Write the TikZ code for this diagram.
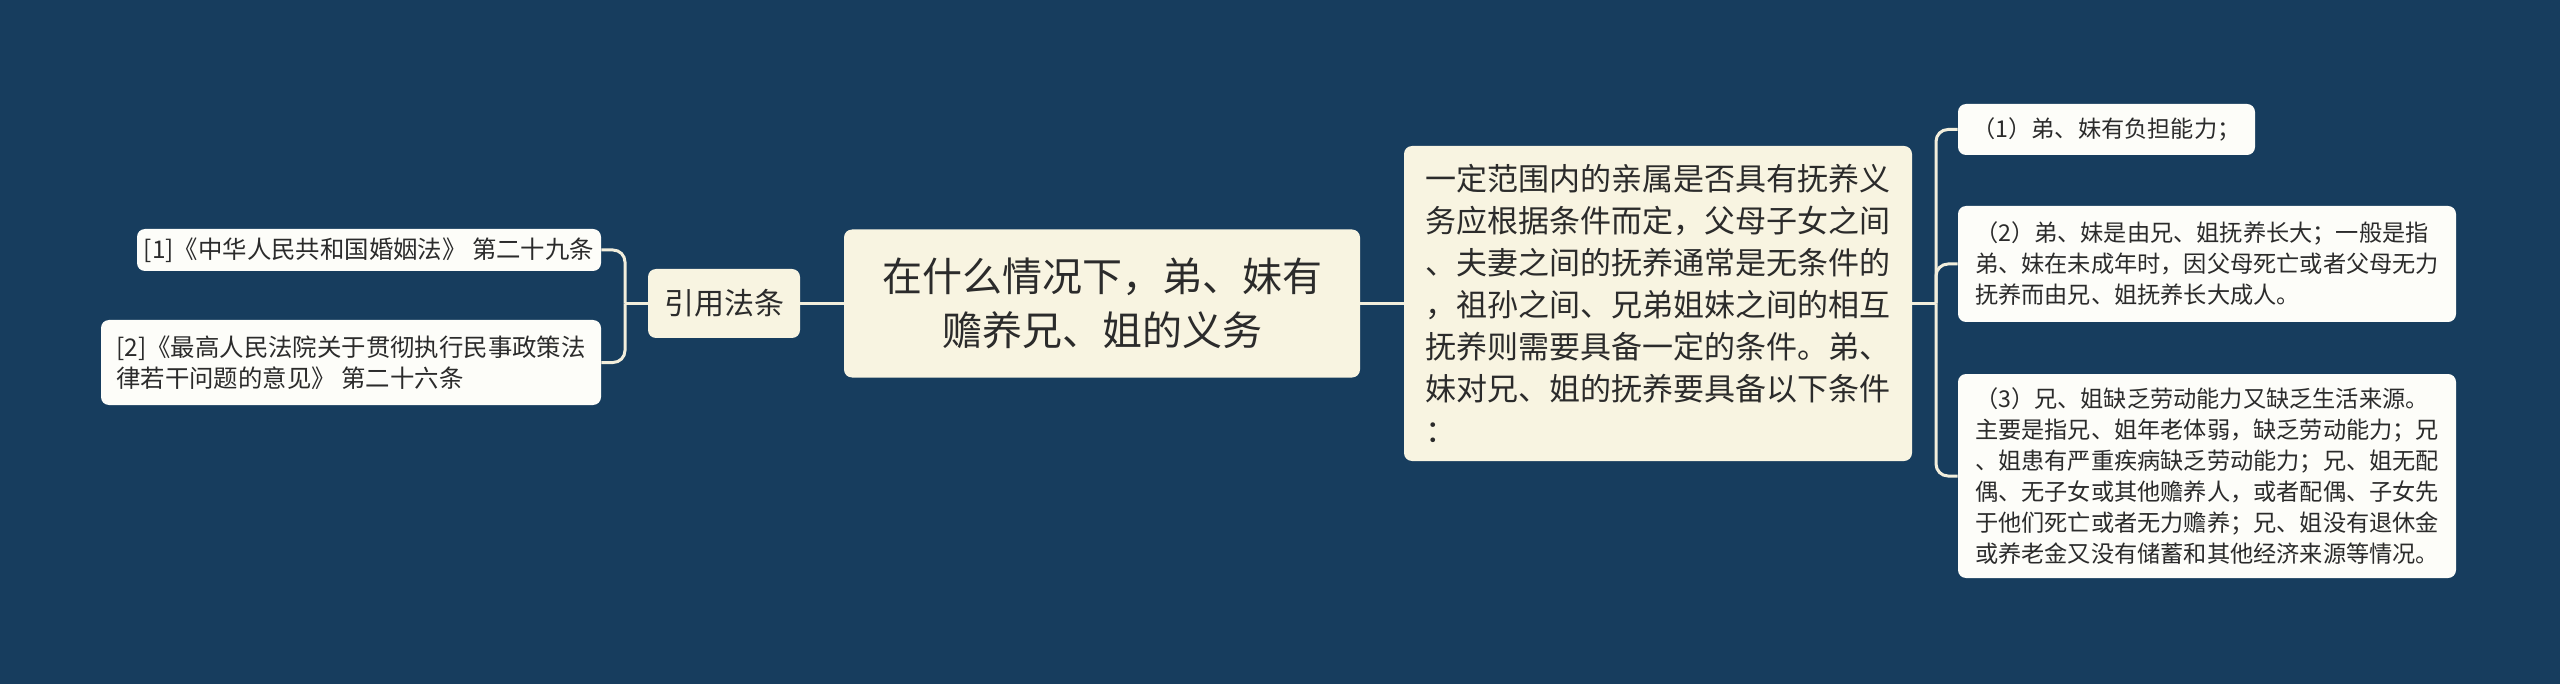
\documentclass[tikz,border=0pt]{standalone}
\usepackage{fontspec}
\setmainfont{Noto Sans CJK SC}
\definecolor{bg}{HTML}{173D5E}
\definecolor{cream}{HTML}{F8F4E1}
\definecolor{leaf}{HTML}{FDFDF9}
\definecolor{ink}{HTML}{2B2B2B}
\definecolor{wire}{HTML}{F2EEDC}
\begin{document}
\begin{tikzpicture}[x=0.5pt,y=-0.5pt,
  box/.style={rounded corners=4pt, inner sep=0pt, text=ink},
  hubbox/.style={box, fill=cream},
  leafL/.style={box, fill=leaf, align=left, font=\fontsize{12.2}{15.5}\selectfont},
  leafR/.style={box, fill=leaf, align=left, font=\fontsize{11.6}{15.5}\selectfont},
  conn/.style={draw=wire, line width=1.5pt},
  elbow/.style={conn, rounded corners=6pt},
]
\fill[bg] (0,0) rectangle (2560,684);
\useasboundingbox (0,0) rectangle (2560,684);

\node[hubbox, minimum width=258pt, minimum height=74pt, align=center,
  font=\fontsize{20}{27}\selectfont] (main) at (1102,303.5)
  {在什么情况下，弟、妹有\\赡养兄、姐的义务};
\node[hubbox, minimum width=76pt, minimum height=34.5pt,
  font=\fontsize{15}{18}\selectfont] (ref) at (724,303.5) {引用法条};
\node[hubbox, minimum width=254pt, minimum height=157.5pt, align=left,
  font=\fontsize{15.5}{21}\selectfont] (desc) at (1658,303.5)
  {一定范围内的亲属是否具有抚养义\\务应根据条件而定，父母子女之间\\、夫妻之间的抚养通常是无条件的\\，祖孙之间、兄弟姐妹之间的相互\\抚养则需要具备一定的条件。弟、\\妹对兄、姐的抚养要具备以下条件\\：};

\node[leafL, minimum width=232pt, minimum height=21pt] (l1) at (369,250)
  {[1]《中华人民共和国婚姻法》 第二十九条};
\node[leafL, minimum width=250pt, minimum height=42.5pt] (l2) at (351,362.5)
  {[2]《最高人民法院关于贯彻执行民事政策法\\律若干问题的意见》 第二十六条};

\node[leafR, minimum width=148.5pt, minimum height=25.5pt] (r1) at (2106.5,129.5)
  {（1）弟、妹有负担能力；};
\node[leafR, minimum width=249pt, minimum height=58pt] (r2) at (2207,264)
  {（2）弟、妹是由兄、姐抚养长大；一般是指\\弟、妹在未成年时，因父母死亡或者父母无力\\抚养而由兄、姐抚养长大成人。};
\node[leafR, minimum width=249pt, minimum height=102pt] (r3) at (2207,476)
  {（3）兄、姐缺乏劳动能力又缺乏生活来源。\\主要是指兄、姐年老体弱，缺乏劳动能力；兄\\、姐患有严重疾病缺乏劳动能力；兄、姐无配\\偶、无子女或其他赡养人，或者配偶、子女先\\于他们死亡或者无力赡养；兄、姐没有退休金\\或养老金又没有储蓄和其他经济来源等情况。};

\coordinate (tlx) at (625,0);
\coordinate (trx) at (1936,0);
\coordinate (tl) at (ref.west -| tlx);
\coordinate (tr) at (desc.east -| trx);

\draw[conn] (main.west) -- (ref.east);
\draw[conn] (main.east) -- (desc.west);
\draw[conn] (ref.west) -- (tl);
\draw[elbow] (tl) |- (l1.east);
\draw[elbow] (tl) |- (l2.east);
\draw[conn] (desc.east) -- (tr);
\draw[elbow] (tr) |- (r1.west);
\draw[elbow] (tr) |- (r2.west);
\draw[elbow] (tr) |- (r3.west);
\end{tikzpicture}
\end{document}
